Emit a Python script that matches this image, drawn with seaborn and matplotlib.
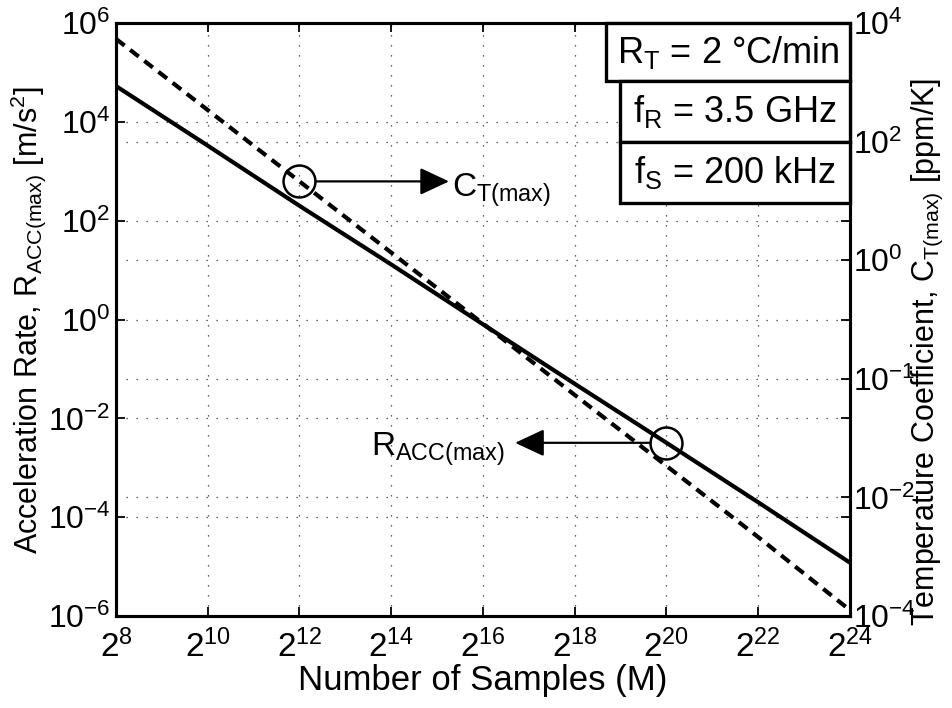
import numpy as np
import pandas as pd
import matplotlib
matplotlib.use("Agg")
import matplotlib.pyplot as plt
from matplotlib.patches import Rectangle
import seaborn as sns

# ---- data ----
samples_exp = [8, 10, 12, 14, 16, 18, 20, 22, 24]            # M = 2^k
r_acc = [5.3e4, 3.3e3, 2.0e2, 1.3e1, 0.80, 5.0e-2, 3.2e-3, 2.0e-4, 1.2e-5]   # m/s^2 (left axis)
c_t = [6.1e3, 6.7e2, 73.0, 8.0, 0.88, 9.6e-2, 1.06e-2, 1.16e-3, 1.2e-4]       # ppm/K (right axis)

x_tick_exp = [8, 10, 12, 14, 16, 18, 20, 22, 24]
x_tick_labels = [f"$2^{{{e}}}$" for e in x_tick_exp]
left_tick_exp = [-6, -4, -2, 0, 2, 4, 6]
left_tick_labels = [f"$10^{{{e}}}$" for e in left_tick_exp]
right_tick_labels = ["$10^{-4}$", "$10^{-2}$", "$10^{-1}$", "$10^{0}$", "$10^{2}$", "$10^{4}$"]
box_texts = [r"$\mathrm{R_T}$ = 2 °C/min", r"$\mathrm{f_R}$ = 3.5 GHz", r"$\mathrm{f_S}$ = 200 kHz"]

df = pd.DataFrame({"M": [2.0 ** e for e in samples_exp], "R": r_acc, "C": c_t})

sns.set_style("ticks")
plt.rcParams["font.family"] = ["Liberation Sans", "DejaVu Sans"]
plt.rcParams["mathtext.fontset"] = "custom"
plt.rcParams["mathtext.rm"] = "Liberation Sans"
plt.rcParams["mathtext.it"] = "Liberation Sans:italic"
plt.rcParams["mathtext.bf"] = "Liberation Sans:bold"
plt.rcParams["mathtext.sf"] = "Liberation Sans"
plt.rcParams["axes.unicode_minus"] = False
for key in ("text.color", "axes.labelcolor", "xtick.color", "ytick.color", "axes.edgecolor"):
    plt.rcParams[key] = "black"

FS = 23
LFS = 22
BFS = 26
fig = plt.figure(figsize=(9.53, 7.08), dpi=100)
ax = fig.add_axes([0.1217, 0.1299, 0.7702, 0.8376])
ax2 = ax.twinx()

ax.set_xscale("log", base=2)
ax.set_yscale("log")
ax2.set_yscale("log")

sns.lineplot(data=df, x="M", y="R", ax=ax, color="k", lw=3.0, zorder=3)
sns.lineplot(data=df, x="M", y="C", ax=ax2, color="k", lw=3.0, zorder=3)
ax2.lines[0].set_dashes((2.6, 1.7))

ax.set_xlim(2.0 ** 8, 2.0 ** 24)
ax.set_ylim(1e-6, 1e6)
ax2.set_ylim(1e-4, 1e4)

ax.set_xticks([2.0 ** e for e in x_tick_exp])
ax.set_xticklabels(x_tick_labels, fontsize=24)
ax.set_yticks([10.0 ** e for e in left_tick_exp])
ax.set_yticklabels(left_tick_labels, fontsize=FS)
ax2.set_yticks(10.0 ** np.linspace(-4, 4, 6))
ax2.set_yticklabels(right_tick_labels, fontsize=FS)
ax.minorticks_off()
ax2.minorticks_off()

ax.tick_params(which="major", direction="in", length=6.5, width=1.3, colors="black",
               top=True, right=True, left=True, bottom=True, pad=4)
ax.tick_params(axis="x", pad=10)
ax2.tick_params(which="major", direction="in", length=6.5, width=1.3, pad=2, colors="black")

grid_kw = dict(color="0.2", lw=0.9, ls=(0, (1, 7)))
ax.grid(True, which="major", axis="both", **grid_kw)
ax2.grid(True, which="major", axis="y", **grid_kw)

for a in (ax, ax2):
    for s in a.spines.values():
        s.set_linewidth(2.2)
        s.set_color("k")

ax.set_xlabel("Number of Samples (M)", fontsize=25, labelpad=0)
ax.set_ylabel(r"Acceleration Rate, $\mathrm{R_{ACC(max)}}$ [m/s$^{2}$]", fontsize=LFS)
ax2.set_ylabel(r"Temperature Coefficient, $\mathrm{C_{T(max)}}$ [ppm/K]", fontsize=LFS)
ax.yaxis.set_label_coords(-0.0926, 0.5)
ax2.yaxis.set_label_coords(1.0817, 0.445)

# circles marking the maximum points
ax2.plot(df["M"][2], df["C"][2], "o", ms=23, mfc="none", mec="k", mew=1.8, zorder=4)
ax.plot(df["M"][6], df["R"][6], "o", ms=23, mfc="none", mec="k", mew=1.8, zorder=4)

arrow_kw = dict(arrowstyle="-|>,head_length=0.9,head_width=0.42", color="k", lw=1.6,
                mutation_scale=20, shrinkA=11.5, shrinkB=0)
ax2.annotate("", xy=(df["M"][2] * 2 ** 3.26, df["C"][2]), xytext=(df["M"][2], df["C"][2]),
             arrowprops=arrow_kw, zorder=5)
ax2.annotate(r"$\mathrm{C_{T(max)}}$", xy=(df["M"][2] * 2 ** 3.33, df["C"][2]),
             xytext=(0, -11), textcoords="offset points", ha="left", va="baseline", fontsize=24)
ax.annotate("", xy=(df["M"][6] / 2 ** 3.30, df["R"][6]), xytext=(df["M"][6], df["R"][6]),
            arrowprops=arrow_kw, zorder=5)
ax.annotate(r"$\mathrm{R_{ACC(max)}}$", xy=(df["M"][6] / 2 ** 3.52, df["R"][6]),
            xytext=(0, -9.5), textcoords="offset points", ha="right", va="baseline", fontsize=24)

# parameter boxes (top right)
ax_w, ax_h = 734.0, 593.0
boxes = [(606, 23, 81), (620, 81, 142), (620, 142, 203)]
for (xl, yt, yb), txt in zip(boxes, box_texts):
    x0 = (xl - 116) / ax_w
    y0 = (616 - yb) / ax_h
    w = (850 - xl) / ax_w
    h = (yb - yt) / ax_h
    ax2.add_patch(Rectangle((x0, y0), w, h, transform=ax2.transAxes, facecolor="white",
                            edgecolor="k", lw=2.4, zorder=6, clip_on=False))
    ax2.text(x0 + w / 2, y0 + h / 2, txt, transform=ax2.transAxes, ha="center", va="center",
             fontsize=BFS, zorder=7)

fig.savefig("out.png", dpi=100)
